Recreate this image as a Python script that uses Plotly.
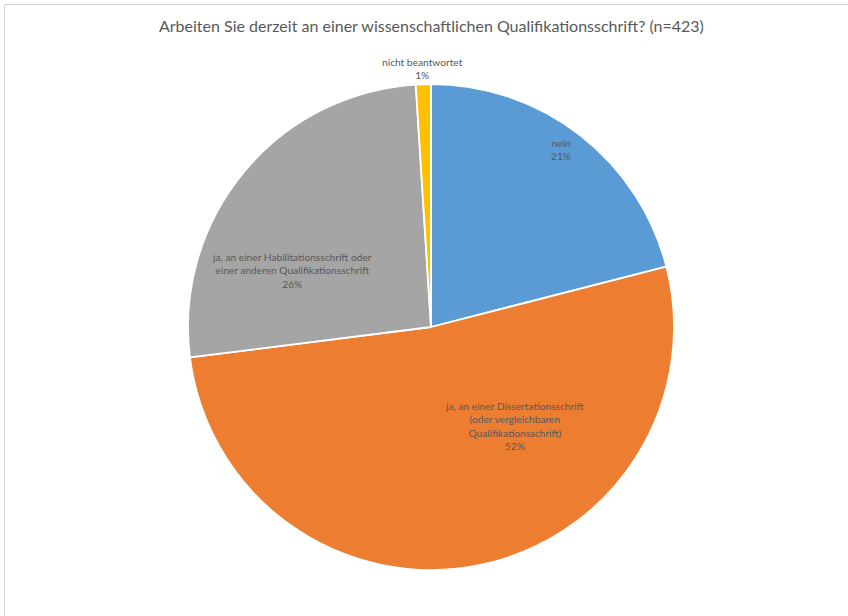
import plotly.graph_objects as go

# Survey answers (n=423), shares in percent
labels = [
    "nein",
    "ja, an einer Dissertationsschrift<br>(oder vergleichbaren<br>Qualifikationsschrift)",
    "ja, an einer Habilitationsschrift oder<br>einer anderen Qualifikationsschrift",
    "nicht beantwortet",
]
values = [21, 52, 26, 1]
colors = ["#5B9BD5", "#ED7D31", "#A5A5A5", "#FFC000"]

# label anchor points (pixels in the 848x616 canvas)
label_px = [(561, 149), (514, 426), (292, 270), (422, 68.5)]

W, H = 848, 616
cx, cy, r = 431, 327, 243

fig = go.Figure(
    go.Pie(
        labels=labels,
        values=values,
        marker=dict(colors=colors, line=dict(color="white", width=1.8)),
        sort=False,
        direction="clockwise",
        rotation=0,
        textinfo="none",
        hoverinfo="label+percent",
        domain=dict(
            x=[(cx - r) / W, (cx + r) / W],
            y=[(H - cy - r) / H, (H - cy + r) / H],
        ),
        showlegend=False,
    )
)

font_family = "Lato, 'Noto Sans', sans-serif"
annotations = []
for lab, val, (px, py) in zip(labels, values, label_px):
    annotations.append(
        dict(
            x=px / W, y=1 - py / H, xref="paper", yref="paper",
            text=f"{lab}<br>{val}%", showarrow=False,
            xanchor="center", yanchor="middle", align="center",
            font=dict(family=font_family, size=10.2, color="#595959"),
        )
    )

annotations.append(
    dict(
        x=431 / W, y=1 - 25 / H, xref="paper", yref="paper",
        text="Arbeiten Sie derzeit an einer wissenschaftlichen Qualifikationsschrift? (n=423)",
        showarrow=False, xanchor="center", yanchor="middle",
        font=dict(family=font_family, size=16, color="#595959"),
    )
)

# thin frame along the top and left edges
shapes = [
    dict(type="line", xref="paper", yref="paper",
         x0=4.5 / W, x1=1.0, y0=1 - 4.5 / H, y1=1 - 4.5 / H,
         line=dict(color="#D0D0D0", width=1)),
    dict(type="line", xref="paper", yref="paper",
         x0=4.5 / W, x1=4.5 / W, y0=0, y1=1 - 4.5 / H,
         line=dict(color="#D0D0D0", width=1)),
]

fig.update_layout(
    width=W, height=H,
    margin=dict(l=0, r=0, t=0, b=0),
    paper_bgcolor="white",
    plot_bgcolor="white",
    annotations=annotations,
    shapes=shapes,
)

fig.write_html("out.html")
